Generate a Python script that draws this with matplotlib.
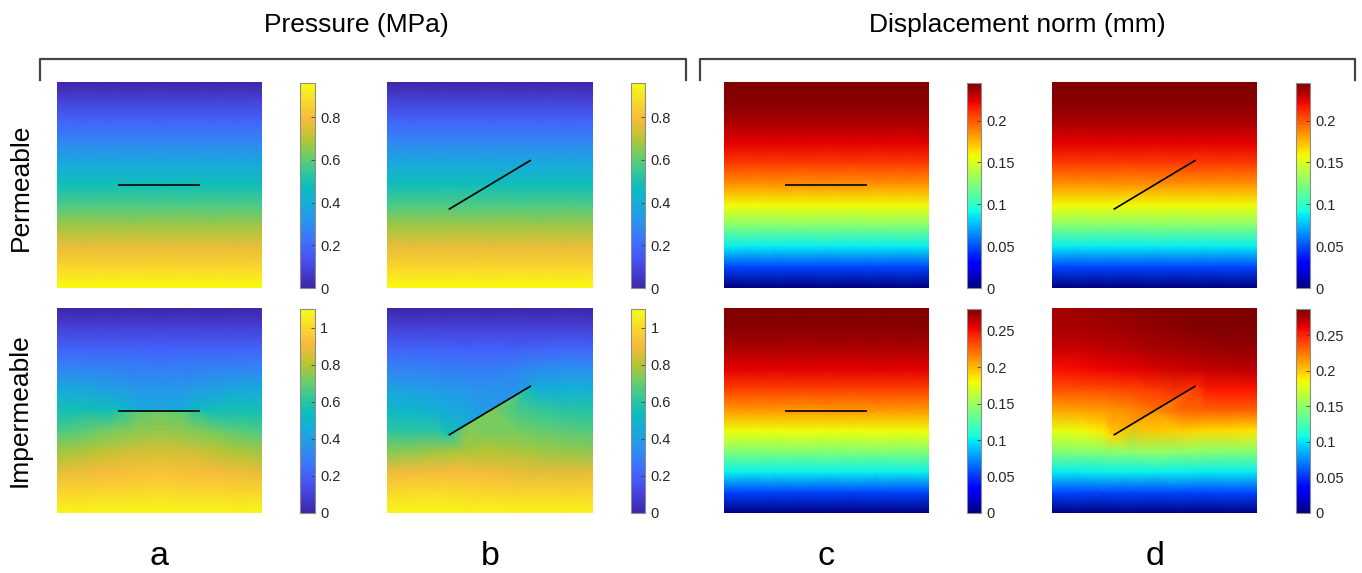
import numpy as np
import matplotlib
matplotlib.use('Agg')
import matplotlib.pyplot as plt
import matplotlib.tri as mtri
from matplotlib.colors import LinearSegmentedColormap

plt.rcParams['font.family'] = ['Liberation Sans', 'DejaVu Sans']

# node positions of the sampled fields (fraction of panel width / depth from top)
grid_x = [0.0, 0.125, 0.25, 0.375, 0.5, 0.625, 0.75, 0.875, 1.0]
grid_depth = [0.0, 0.1, 0.2, 0.3, 0.4, 0.5, 0.6, 0.7, 0.8, 0.9, 1.0]

# permeable fault: fields only vary with depth
pressure_perm = [0.0, 0.096, 0.192, 0.288, 0.384, 0.48, 0.576, 0.672, 0.768, 0.864, 0.96]
disp_perm = [0.245, 0.243, 0.235, 0.223, 0.206, 0.184, 0.157, 0.125, 0.088, 0.047, 0.0]
disp_imp_flat = [0.280, 0.277, 0.269, 0.255, 0.235, 0.210, 0.179, 0.143, 0.101, 0.053, 0.0]

nan = np.nan
# impermeable, horizontal fault (MPa); nan = node lies on the fault
pressure_imp_flat = [
    [0.00, 0.00, 0.00, 0.00, 0.00, 0.00, 0.00, 0.00, 0.00],
    [0.10, 0.10, 0.10, 0.10, 0.10, 0.10, 0.10, 0.10, 0.10],
    [0.21, 0.21, 0.21, 0.21, 0.20, 0.21, 0.21, 0.21, 0.21],
    [0.32, 0.32, 0.31, 0.30, 0.30, 0.30, 0.31, 0.32, 0.32],
    [0.45, 0.44, 0.41, 0.38, 0.37, 0.38, 0.41, 0.44, 0.45],
    [0.56, 0.56, 0.55, nan, nan, nan, 0.55, 0.56, 0.56],
    [0.66, 0.68, 0.72, 0.75, 0.76, 0.75, 0.72, 0.68, 0.66],
    [0.77, 0.79, 0.82, 0.84, 0.85, 0.84, 0.82, 0.79, 0.77],
    [0.88, 0.89, 0.91, 0.92, 0.93, 0.92, 0.91, 0.89, 0.88],
    [0.99, 0.99, 1.00, 1.00, 1.01, 1.00, 1.00, 0.99, 0.99],
    [1.08, 1.08, 1.08, 1.08, 1.08, 1.08, 1.08, 1.08, 1.08],
]
flat_upper = [0.52, 0.44, 0.42, 0.44, 0.52]
flat_lower = [0.60, 0.69, 0.72, 0.69, 0.60]

# impermeable, inclined fault (MPa)
pressure_imp_tilt = [
    [0.00, 0.00, 0.00, 0.00, 0.00, 0.00, 0.00, 0.00, 0.00],
    [0.10, 0.10, 0.10, 0.10, 0.10, 0.10, 0.10, 0.10, 0.10],
    [0.21, 0.21, 0.21, 0.20, 0.20, 0.20, 0.21, 0.22, 0.22],
    [0.31, 0.31, 0.30, 0.29, 0.29, 0.31, 0.34, 0.35, 0.35],
    [0.42, 0.41, 0.39, 0.37, 0.36, nan, 0.46, 0.47, 0.47],
    [0.52, 0.50, 0.46, 0.43, nan, 0.66, 0.62, 0.60, 0.59],
    [0.61, 0.60, 0.60, nan, 0.72, 0.72, 0.70, 0.68, 0.67],
    [0.74, 0.75, 0.77, 0.79, 0.80, 0.79, 0.77, 0.76, 0.75],
    [0.89, 0.90, 0.91, 0.91, 0.90, 0.88, 0.87, 0.87, 0.87],
    [1.00, 1.01, 1.01, 1.00, 0.99, 0.98, 0.98, 0.98, 0.98],
    [1.08, 1.08, 1.08, 1.08, 1.08, 1.08, 1.08, 1.08, 1.08],
]
tilt_upper = [0.56, 0.43, 0.38, 0.36, 0.41]
tilt_lower = [0.62, 0.73, 0.73, 0.68, 0.50]

# impermeable, inclined fault, displacement norm (mm)
disp_imp_tilt = [
    [0.278, 0.279, 0.281, 0.283, 0.285, 0.286, 0.287, 0.287, 0.287],
    [0.275, 0.276, 0.278, 0.280, 0.282, 0.284, 0.286, 0.286, 0.286],
    [0.268, 0.269, 0.271, 0.273, 0.276, 0.278, 0.280, 0.281, 0.281],
    [0.256, 0.257, 0.259, 0.261, 0.264, 0.267, 0.270, 0.272, 0.272],
    [0.236, 0.236, 0.237, 0.239, 0.243, nan, 0.253, 0.254, 0.254],
    [0.210, 0.211, 0.214, 0.218, nan, 0.229, 0.231, 0.231, 0.230],
    [0.180, 0.182, 0.190, nan, 0.200, 0.198, 0.195, 0.193, 0.191],
    [0.146, 0.147, 0.149, 0.151, 0.152, 0.151, 0.149, 0.147, 0.146],
    [0.103, 0.103, 0.104, 0.104, 0.104, 0.104, 0.103, 0.103, 0.103],
    [0.055, 0.055, 0.055, 0.055, 0.055, 0.055, 0.055, 0.055, 0.055],
    [0.0, 0.0, 0.0, 0.0, 0.0, 0.0, 0.0, 0.0, 0.0],
]
disp_upper = [0.200, 0.214, 0.227, 0.240, 0.250]
disp_lower = [0.196, 0.206, 0.216, 0.228, 0.244]

crack_flat = ((0.3, 0.5), (0.7, 0.5))
crack_tilt = ((0.3, 0.62), (0.7, 0.38))

cbar_max = [[0.96, 0.96, 0.245, 0.245], [1.10, 1.10, 0.28, 0.287]]
cbar_ticks_p = [[0, 0.2, 0.4, 0.6, 0.8], [0, 0.2, 0.4, 0.6, 0.8, 1.0]]
cbar_ticks_u = [[0, 0.05, 0.1, 0.15, 0.2], [0, 0.05, 0.1, 0.15, 0.2, 0.25]]

titles = ['Pressure (MPa)', 'Displacement norm (mm)']
row_labels = ['Permeable', 'Impermeable']
col_letters = ['a', 'b', 'c', 'd']

# MATLAB parula (subsampled)
parula_cols = [(0.2422, 0.1504, 0.6603), (0.2810, 0.3228, 0.9579), (0.2440, 0.4358, 0.9988),
               (0.1540, 0.5902, 0.9218), (0.0689, 0.6948, 0.8394), (0.0433, 0.7411, 0.7394),
               (0.2161, 0.7843, 0.5923), (0.4456, 0.8024, 0.3909), (0.7242, 0.7698, 0.1910),
               (0.9728, 0.7298, 0.2394), (0.9814, 0.8386, 0.1756), (0.9590, 0.9435, 0.1279),
               (0.9763, 0.9831, 0.0538)]
parula_pos = [0, 9, 14, 21, 27, 31, 36, 41, 46, 52, 57, 61, 63]
parula = LinearSegmentedColormap.from_list(
    'parula', list(zip(np.array(parula_pos) / 63, parula_cols)))
jet = plt.get_cmap('jet')

W, H = 1362, 573
fig = plt.figure(figsize=(W / 100, H / 100), dpi=100)


def box(x0, y0, x1, y1):
    return [x0 / W, 1 - y1 / H, (x1 - x0) / W, (y1 - y0) / H]


def draw_field(ax, grid, cmap, vmax, crack, upper=None, lower=None):
    xs, ds, vs = [], [], []
    for i, d in enumerate(grid_depth):
        for j, x in enumerate(grid_x):
            if not np.isnan(grid[i][j]):
                xs.append(x)
                ds.append(d)
                vs.append(grid[i][j])
    (x0, d0), (x1, d1) = crack
    if upper is not None:
        # two rows of nodes hugging the fault, one on each side
        L = np.hypot(x1 - x0, d1 - d0)
        nx, nd = (d1 - d0) / L, -(x1 - x0) / L
        eps = 0.004
        for side, vals in ((1, upper), (-1, lower)):
            for t, v in zip(np.linspace(0, 1, len(vals)), vals):
                xs.append(x0 + t * (x1 - x0) + side * eps * nx)
                ds.append(d0 + t * (d1 - d0) + side * eps * nd)
                vs.append(v)
    tri = mtri.Triangulation(xs, ds)
    m = ax.tripcolor(tri, vs, shading='gouraud', cmap=cmap, vmin=0, vmax=vmax)
    ax.plot([x0, x1], [d0, d1], color='black', lw=1.2, solid_capstyle='butt')
    ax.set_xlim(0, 1)
    ax.set_ylim(1, 0)
    ax.axis('off')
    return m


panel_x = [(56.7, 262), (387, 592.7), (723.5, 929), (1052, 1257.3)]
cbar_x = [(300, 314.7), (631, 645), (967, 981), (1296, 1310)]
row_y = [(82, 287.5), (308, 513)]
cbar_y = [(83, 288), (309, 513)]

fields = [
    [(np.tile(np.array(pressure_perm)[:, None], (1, 9)), parula, crack_flat, None, None),
     (np.tile(np.array(pressure_perm)[:, None], (1, 9)), parula, crack_tilt, None, None),
     (np.tile(np.array(disp_perm)[:, None], (1, 9)), jet, crack_flat, None, None),
     (np.tile(np.array(disp_perm)[:, None], (1, 9)), jet, crack_tilt, None, None)],
    [(np.array(pressure_imp_flat), parula, crack_flat, flat_upper, flat_lower),
     (np.array(pressure_imp_tilt), parula, crack_tilt, tilt_upper, tilt_lower),
     (np.tile(np.array(disp_imp_flat)[:, None], (1, 9)), jet, crack_flat, None, None),
     (np.array(disp_imp_tilt), jet, crack_tilt, disp_upper, disp_lower)],
]

for r in range(2):
    for c in range(4):
        grid, cmap, crack, up, lo = fields[r][c]
        ax = fig.add_axes(box(panel_x[c][0], row_y[r][0], panel_x[c][1], row_y[r][1]))
        m = draw_field(ax, grid, cmap, cbar_max[r][c], crack, up, lo)
        cax = fig.add_axes(box(cbar_x[c][0], cbar_y[r][0], cbar_x[c][1], cbar_y[r][1]))
        ticks = cbar_ticks_p[r] if c < 2 else cbar_ticks_u[r]
        cb = fig.colorbar(m, cax=cax, ticks=ticks)
        cb.set_ticklabels(['%g' % t for t in ticks])
        cb.outline.set_edgecolor('#8c8c8c')
        cb.outline.set_linewidth(0.8)
        cax.tick_params(direction='in', length=3, width=0.6, color='#404040',
                        labelsize=10.5, labelcolor='#262626', pad=4)

# brackets and headings
for (xa, xb), title in zip([(40, 686), (700, 1355)], titles):
    fig.add_artist(plt.Line2D([xa / W, xa / W, xb / W, xb / W],
                              [1 - 80 / H, 1 - 59 / H, 1 - 59 / H, 1 - 80 / H],
                              color='#444444', lw=1.6, transform=fig.transFigure))
fig.text(356 / W, 1 - 32 / H, titles[0], ha='center', va='baseline', fontsize=19)
fig.text(1017 / W, 1 - 32 / H, titles[1], ha='center', va='baseline', fontsize=19)

fig.text(21 / W, 1 - 187 / H, row_labels[0], rotation=90, ha='center', va='center', fontsize=19)
fig.text(20 / W, 1 - 410 / H, row_labels[1], rotation=90, ha='center', va='center', fontsize=19)

for (xa, xb), letter in zip(panel_x, col_letters):
    fig.text((xa + xb) / 2 / W, 1 - 565 / H, letter, ha='center', va='baseline', fontsize=24.5)

fig.savefig('out.png', dpi=100)
